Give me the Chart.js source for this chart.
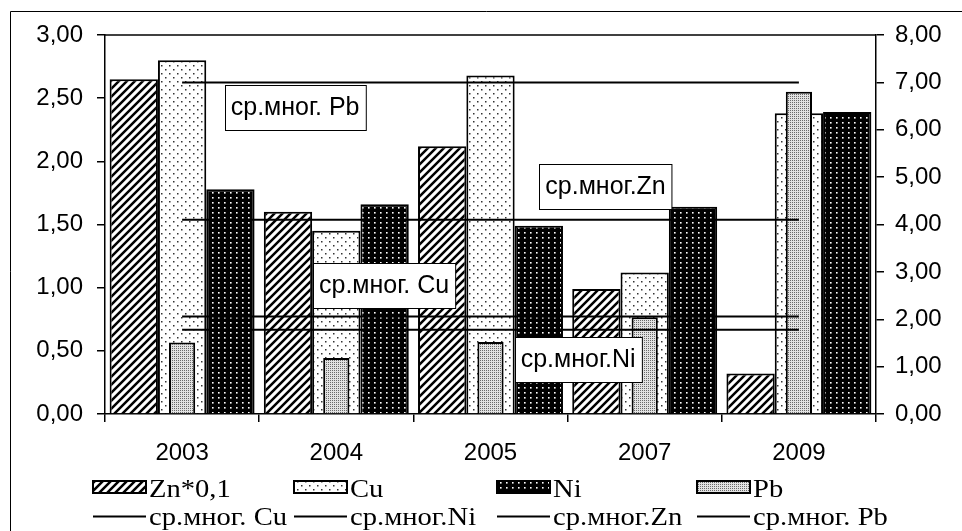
<!DOCTYPE html>
<html>
<head>
<meta charset="utf-8">
<script src="https://cdn.jsdelivr.net/npm/chart.js@4/dist/chart.umd.min.js"></script>
<style>
  html, body { margin: 0; padding: 0; background: #fff; }
  #wrap { width: 962px; height: 531px; }
</style>
</head>
<body>
<div id="wrap"><canvas id="c" width="962" height="531"></canvas></div>
<script>
// Years of observation
const years = ['2003', '2004', '2005', '2007', '2009'];

// Bar series (left axis): Zn scaled by 0.1, Cu, Ni
const zn01 = [2.65, 1.60, 2.12, 0.99, 0.32];
const cu   = [2.80, 1.45, 2.68, 1.12, 2.38];
const ni   = [1.78, 1.66, 1.49, 1.64, 2.39];
// Bar series (right axis): Pb
const pb   = [1.51, 1.18, 1.52, 2.04, 6.80];

// Long-term averages (right axis)
const meanCu = [2.06, 2.06, 2.06, 2.06, 2.06];
const meanNi = [1.78, 1.78, 1.78, 1.78, 1.78];
const meanZn = [4.10, 4.10, 4.10, 4.10, 4.10];
const meanPb = [7.00, 7.00, 7.00, 7.00, 7.00];

// Axis ranges
const leftAxis  = { min: 0, max: 3, step: 0.5 };
const rightAxis = { min: 0, max: 8, step: 1 };

// Captions for the average lines: [text, position along categories, right-axis level]
const meanCaptions = [
  ['ср.мног. Pb', 0.733, 6.48],
  ['ср.мног.Zn', 2.746, 4.81],
  ['ср.мног. Cu', 1.31, 2.72],
  ['ср.мног.Ni', 2.568, 1.16]
];

function makePattern(w, h, paint) {
  const cv = document.createElement('canvas');
  cv.width = w; cv.height = h;
  const g = cv.getContext('2d');
  paint(g, w, h);
  return g.createPattern(cv, 'repeat');
}

// Diagonal hatching
const patZn = makePattern(8, 8, (g, w, h) => {
  g.fillStyle = '#fff'; g.fillRect(0, 0, w, h);
  g.strokeStyle = '#000'; g.lineWidth = 2.5; g.lineCap = 'square';
  g.beginPath();
  g.moveTo(-2, 10); g.lineTo(10, -2);
  g.moveTo(-6, 6); g.lineTo(6, -6);
  g.moveTo(2, 14); g.lineTo(14, 2);
  g.stroke();
});
// Sparse dots on white
const patCu = makePattern(8, 8, (g, w, h) => {
  g.fillStyle = '#fff'; g.fillRect(0, 0, w, h);
  g.fillStyle = '#333';
  g.fillRect(1, 1, 1.5, 1.5);
  g.fillRect(5, 5, 1.5, 1.5);
});
// White dots on black
const patNi = makePattern(6, 5, (g, w, h) => {
  g.fillStyle = '#000'; g.fillRect(0, 0, w, h);
  g.fillStyle = '#fff';
  g.fillRect(2, 2, 1.6, 1.6);
});
// Fine grey stipple
const patPb = makePattern(2, 2, (g, w, h) => {
  g.fillStyle = '#e2e2e2'; g.fillRect(0, 0, w, h);
  g.fillStyle = '#6a6a6a';
  g.fillRect(0, 0, 1, 1);
});

const fmt = v => v.toFixed(2).replace('.', ',');
const sansTick = { family: "'Liberation Sans', Arial, sans-serif", size: 24 };

const framePlugin = {
  id: 'frame',
  beforeDraw(chart) {
    const ctx = chart.ctx;
    ctx.save();
    ctx.fillStyle = '#fff';
    ctx.fillRect(0, 0, chart.width, chart.height);
    ctx.strokeStyle = '#000'; ctx.lineWidth = 1;
    ctx.beginPath();
    ctx.moveTo(10.5, chart.height + 2); ctx.lineTo(10.5, 11.5); ctx.lineTo(chart.width + 2, 11.5);
    ctx.stroke();
    ctx.restore();
  },
  afterDraw(chart) {
    const { ctx, chartArea: a } = chart;
    ctx.save();
    ctx.strokeStyle = '#000'; ctx.lineWidth = 1.5;
    ctx.beginPath();
    ctx.moveTo(a.left, a.top); ctx.lineTo(a.right, a.top);
    ctx.stroke();
    ctx.restore();
  }
};

const captionPlugin = {
  id: 'captions',
  afterDatasetsDraw(chart) {
    const { ctx } = chart;
    const xs = chart.scales.x, y2 = chart.scales.y2;
    ctx.save();
    ctx.font = "25px 'Liberation Sans', Arial, sans-serif";
    ctx.textAlign = 'center'; ctx.textBaseline = 'middle';
    meanCaptions.forEach(([text, pos, lvl]) => {
      const cx = xs.getPixelForValue(pos);
      const cy = y2.getPixelForValue(lvl);
      const w = ctx.measureText(text).width + 12, h = 45;
      const x0 = Math.round(cx - w / 2) + 0.5, y0 = Math.round(cy - h / 2) + 0.5;
      ctx.fillStyle = '#fff';
      ctx.fillRect(x0, y0, w, h);
      ctx.strokeStyle = '#000'; ctx.lineWidth = 1;
      ctx.strokeRect(x0, y0, w, h);
      ctx.fillStyle = '#000';
      ctx.fillText(text, cx, cy + 1);
    });
    ctx.restore();
  }
};

const legendPlugin = {
  id: 'customLegend',
  afterDraw(chart) {
    const { ctx } = chart;
    const ds = chart.data.datasets;
    const colX = [93, 294, 497, 697];
    ctx.save();
    ctx.font = "26px 'Liberation Serif', 'Times New Roman', serif";
    ctx.textBaseline = 'alphabetic'; ctx.textAlign = 'left';
    const barItems = ds.filter(d => d.type === 'bar');
    const lineItems = ds.filter(d => d.type === 'line');
    barItems.forEach((d, i) => {
      const x = colX[i], y = 481;
      ctx.fillStyle = d.backgroundColor;
      ctx.fillRect(x, y, 53, 12);
      ctx.strokeStyle = '#000'; ctx.lineWidth = 2;
      ctx.strokeRect(x, y, 53, 12);
      ctx.fillStyle = '#000';
      ctx.save(); ctx.translate(x + 56, 497); ctx.scale(1.1, 1);
      ctx.fillText(d.label, 0, 0); ctx.restore();
    });
    lineItems.forEach((d, i) => {
      const x = colX[i], y = 516.5;
      ctx.strokeStyle = '#000'; ctx.lineWidth = 2;
      ctx.beginPath(); ctx.moveTo(x, y); ctx.lineTo(x + 53, y); ctx.stroke();
      ctx.fillStyle = '#000';
      ctx.save(); ctx.translate(x + 56, 525); ctx.scale(1.1, 1);
      ctx.fillText(d.label, 0, 0); ctx.restore();
    });
    ctx.restore();
  }
};

const barCommon = { type: 'bar', borderColor: '#000', borderWidth: 2, borderSkipped: 'start',
                    categoryPercentage: 0.94, barPercentage: 1.0, yAxisID: 'y', order: 2 };
const lineCommon = { type: 'line', borderColor: '#000', borderWidth: 2, pointRadius: 0,
                     tension: 0, fill: false, yAxisID: 'y2', order: 0 };

new Chart(document.getElementById('c'), {
  data: {
    labels: years,
    datasets: [
      { ...barCommon, label: 'Zn*0,1', data: zn01, backgroundColor: patZn },
      { ...barCommon, label: 'Cu', data: cu, backgroundColor: patCu },
      { ...barCommon, label: 'Ni', data: ni, backgroundColor: patNi },
      { ...barCommon, label: 'Pb', data: pb, backgroundColor: patPb, yAxisID: 'y2',
        grouped: false, categoryPercentage: 1, barPercentage: 0.17, order: 1 },
      { ...lineCommon, label: 'ср.мног. Cu', data: meanCu },
      { ...lineCommon, label: 'ср.мног.Ni', data: meanNi },
      { ...lineCommon, label: 'ср.мног.Zn', data: meanZn },
      { ...lineCommon, label: 'ср.мног. Pb', data: meanPb }
    ]
  },
  options: {
    responsive: false,
    animation: false,
    devicePixelRatio: 1,
    layout: { padding: { top: 35, left: 0, right: 0, bottom: 0 } },
    plugins: { legend: { display: false }, tooltip: { enabled: false } },
    scales: {
      x: {
        type: 'category',
        offset: true,
        grid: { offset: true, drawOnChartArea: false, drawTicks: true, tickLength: 8, color: '#000', lineWidth: 1.5 },
        border: { display: true, color: '#000', width: 1.5 },
        ticks: { color: '#000', font: sansTick, padding: 17, maxRotation: 0 },
        afterFit: s => { s.height = 117; }
      },
      y: {
        position: 'left',
        min: leftAxis.min, max: leftAxis.max,
        grid: { drawOnChartArea: false, drawTicks: true, tickLength: 8, color: '#000', lineWidth: 1.5 },
        border: { display: true, color: '#000', width: 1.5 },
        ticks: { stepSize: leftAxis.step, color: '#000', font: sansTick, padding: 14, callback: v => fmt(v) },
        afterFit: s => { s.width = 105; }
      },
      y2: {
        position: 'right',
        min: rightAxis.min, max: rightAxis.max,
        grid: { drawOnChartArea: false, drawTicks: true, tickLength: 8, color: '#000', lineWidth: 1.5 },
        border: { display: true, color: '#000', width: 1.5 },
        ticks: { stepSize: rightAxis.step, color: '#000', font: sansTick, padding: 11, callback: v => fmt(v) },
        afterFit: s => { s.width = 86; }
      }
    }
  },
  plugins: [framePlugin, captionPlugin, legendPlugin]
});
</script>
</body>
</html>
